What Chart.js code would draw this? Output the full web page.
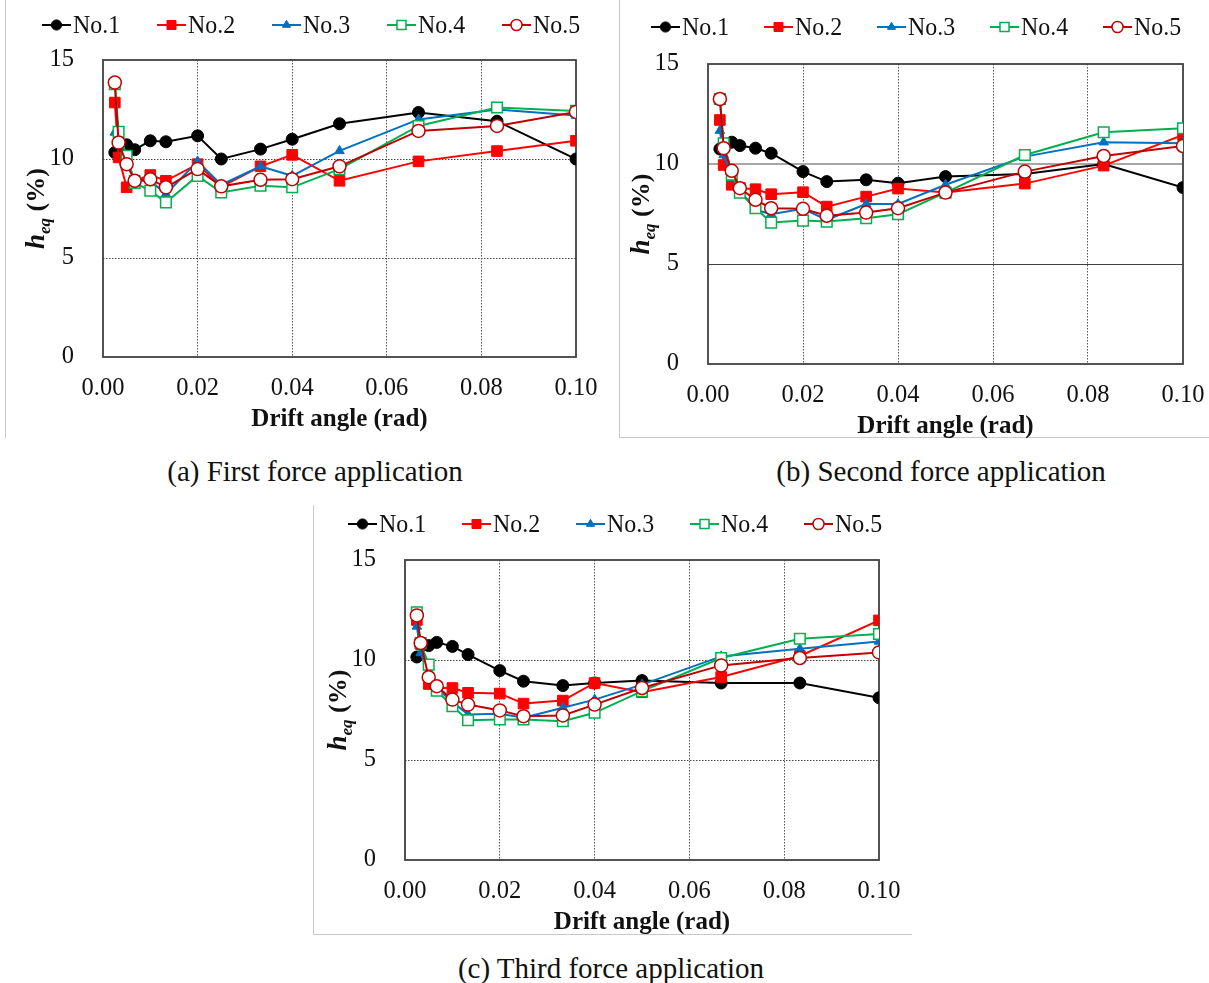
<!DOCTYPE html>
<html>
<head>
<meta charset="utf-8">
<script src="https://cdn.jsdelivr.net/npm/chart.js@4.4.1/dist/chart.umd.min.js"></script>
<style>
  body { margin: 0; background: #fff; width: 1209px; height: 983px; position: relative; overflow: hidden; font-family: 'Liberation Serif', serif; }
  canvas { position: absolute; }
  .cap { position: absolute; font-size: 29px; line-height: 32px; color: #111; white-space: nowrap; transform: translateX(-50%); }
  .edge { position: absolute; background: #c9c9c9; }
</style>
</head>
<body>
<div class="edge" style="left:5px; top:0; width:1px; height:438px"></div>
<div class="edge" style="left:619px; top:0; width:1px; height:438px"></div>
<div class="edge" style="left:619px; top:437px; width:590px; height:1px"></div>
<div class="edge" style="left:313px; top:505px; width:1px; height:430px"></div>
<div class="edge" style="left:313px; top:934px; width:599px; height:1px"></div>

<canvas id="chartA" width="600" height="440" style="left:0; top:0"></canvas>
<canvas id="chartB" width="599" height="440" style="left:610px; top:0"></canvas>
<canvas id="chartC" width="605" height="445" style="left:305px; top:495px"></canvas>

<div class="cap" style="left:315px; top:455px">(a) First force application</div>
<div class="cap" style="left:941px; top:455px">(b) Second force application</div>
<div class="cap" style="left:611px; top:952px">(c) Third force application</div>

<script>
// drift angles (rad): 1/400, 1/300, 1/200, 1/150, 1/100, 1/75, 1/50, 1/40, 1/30, 1/25, 1/20, 1/15, 1/12, 1/10
const drift = [0.0025, 0.0033, 0.005, 0.0067, 0.01, 0.0133, 0.02, 0.025, 0.0333, 0.04, 0.05, 0.0667, 0.0833, 0.1];
const xTicks = [0, 0.02, 0.04, 0.06, 0.08, 0.1];
const yTicks = [0, 5, 10, 15];
const seriesNames = ['No.1', 'No.2', 'No.3', 'No.4', 'No.5'];

// (a) first force application, h_eq (%)
const a1 = [10.33, null, 10.72, 10.47, 10.92, 10.87, 11.17, 10.0, 10.5, 11.0, 11.78, 12.35, 11.91, 10.0];
const a2 = [12.85, 10.08, 8.57, 8.9, 9.19, 8.9, 9.74, 8.6, 9.63, 10.21, 8.9, 9.88, 10.4, 10.92];
const a3 = [11.34, 10.8, 10.0, 8.9, 8.9, 8.23, 9.88, 8.7, 9.63, 9.15, 10.41, 12.0, 12.5, 12.2];
const a4 = [13.78, 11.37, 10.16, 8.79, 8.4, 7.81, 9.15, 8.31, 8.65, 8.57, 9.49, 11.67, 12.6, 12.43];
const a5 = [13.86, 10.83, 9.74, 8.9, 8.98, 8.57, 9.49, 8.62, 8.95, 8.98, 9.63, 11.42, 11.67, 12.38];

// (b) second force application
const b1 = [10.75, null, 11.09, 10.92, 10.79, 10.54, 9.62, 9.12, 9.21, 9.04, 9.37, 9.5, 10.0, 8.82];
const b2 = [12.2, 9.95, 8.96, 8.8, 8.74, 8.49, 8.59, 7.87, 8.37, 8.77, 8.57, 9.02, 9.92, 11.45];
const b3 = [11.67, 10.45, 9.3, 8.7, 7.71, 7.49, 7.76, 7.21, 8.0, 8.0, 8.96, 10.37, 11.09, 11.04];
const b4 = [13.25, 11.04, 9.46, 8.57, 7.79, 7.07, 7.17, 7.12, 7.29, 7.49, 8.57, 10.45, 11.59, 11.79];
const b5 = [13.25, 10.79, 9.66, 8.79, 8.21, 7.79, 7.76, 7.41, 7.57, 7.79, 8.57, 9.62, 10.4, 10.9];

// (c) third force application
const c1 = [10.15, null, 10.72, 10.88, 10.68, 10.27, 9.47, 8.94, 8.72, 8.85, 8.97, 8.85, 8.85, 8.11];
const c2 = [12.0, 10.8, 8.8, 8.6, 8.6, 8.36, 8.32, 7.82, 7.97, 8.85, 8.39, 9.15, 10.2, 11.98];
const c3 = [11.68, 10.35, 9.2, 8.6, 7.9, 7.28, 7.31, 7.11, 7.61, 8.02, 8.77, 10.18, 10.56, 10.93];
const c4 = [12.39, 10.85, 9.77, 8.47, 7.69, 6.99, 7.03, 7.03, 6.94, 7.36, 8.44, 10.1, 11.06, 11.3];
const c5 = [12.23, 10.85, 9.14, 8.69, 8.02, 7.77, 7.48, 7.19, 7.23, 7.77, 8.6, 9.73, 10.1, 10.38];

const FONT = "'Liberation Serif', 'Times New Roman', serif";

// marker / line style per specimen
const styles = [
    { color: '#000000', fill: '#000000', pointStyle: 'circle', radius: 6, bw: 1 },
    { color: '#ff0000', fill: '#ff0000', pointStyle: 'rect', radius: 7.5, bw: 1 },
    { color: '#0070c0', fill: '#0070c0', pointStyle: 'triangle', radius: 5.5, bw: 1 },
    { color: '#00b050', fill: '#ffffff', pointStyle: 'rect', radius: 7.5, bw: 1.5 },
    { color: '#c00000', fill: '#ffffff', pointStyle: 'circle', radius: 6.5, bw: 1.5 }
];

function toPoints(vals) {
    return vals.map((v, i) => ({ x: drift[i], y: v }));
}

// small legend: line + marker + label, like the Excel one
const lineLegend = {
    id: 'lineLegend',
    afterDraw(chart, args, opts) {
        const ctx = chart.ctx;
        ctx.save();
        seriesNames.forEach((name, i) => {
            const s = styles[i];
            const x = opts.x + i * opts.gap;
            const y = opts.y;
            ctx.strokeStyle = s.color;
            ctx.lineWidth = 2;
            ctx.beginPath();
            ctx.moveTo(x, y);
            ctx.lineTo(x + 29, y);
            ctx.stroke();
            ctx.fillStyle = s.fill;
            ctx.lineWidth = s.bw;
            Chart.helpers.drawPoint(ctx, { pointStyle: s.pointStyle, radius: s.radius * 0.85, borderWidth: s.bw, rotation: 0 }, x + 14.5, y);
            // the source image is a bit stretched vertically, so squeeze the text
            ctx.save();
            ctx.translate(x + 31, y + 1);
            ctx.scale(0.92, 1);
            ctx.fillStyle = '#111';
            ctx.font = '26px ' + FONT;
            ctx.textBaseline = 'middle';
            ctx.textAlign = 'left';
            ctx.fillText(name, 0, 0);
            ctx.restore();
        });
        ctx.restore();
    }
};

// plot frame + axis titles
const frame = {
    id: 'frame',
    beforeDatasetsDraw(chart) {
        const { ctx, chartArea: a } = chart;
        ctx.save();
        ctx.strokeStyle = '#404040';
        ctx.lineWidth = 1.8;
        ctx.strokeRect(a.left, a.top, a.right - a.left, a.bottom - a.top);
        ctx.restore();
    },
    afterDraw(chart) {
        const { ctx, chartArea: a } = chart;
        ctx.save();
        ctx.fillStyle = '#111';
        ctx.textBaseline = 'middle';
        ctx.textAlign = 'center';
        ctx.font = 'bold 25px ' + FONT;
        ctx.fillText('Drift angle (rad)', (a.left + a.right) / 2, a.bottom + 63);

        // y title: h_eq (%)
        const cx = a.left - 68, cy = (a.top + a.bottom) / 2;
        ctx.translate(cx, cy);
        ctx.rotate(-Math.PI / 2);
        ctx.textAlign = 'left';
        ctx.textBaseline = 'alphabetic';
        const fH = 'italic bold 27px ' + FONT, fS = 'italic bold 17px ' + FONT, fP = 'bold 26px ' + FONT;
        ctx.font = fH; const wH = ctx.measureText('h').width;
        ctx.font = fS; const wS = ctx.measureText('eq').width;
        ctx.font = fP; const wP = ctx.measureText(' (%)').width;
        let x = -(wH + wS + wP) / 2;
        const base = 9;
        ctx.font = fH; ctx.fillText('h', x, base); x += wH;
        ctx.font = fS; ctx.fillText('eq', x, base + 6); x += wS;
        ctx.font = fP; ctx.fillText(' (%)', x, base);
        ctx.restore();
    }
};

function makeChart(id, values, box) {
    const datasets = values.map((vals, i) => ({
        label: seriesNames[i],
        data: toPoints(vals),
        borderColor: styles[i].color,
        backgroundColor: styles[i].fill,
        pointBackgroundColor: styles[i].fill,
        pointBorderColor: styles[i].color,
        pointBorderWidth: styles[i].bw,
        pointStyle: styles[i].pointStyle,
        pointRadius: styles[i].radius,
        borderWidth: 2,
        spanGaps: true,
        tension: 0,
        order: values.length - i
    }));

    const inner = v => v > 0.0001 && v < 0.0999;

    return new Chart(document.getElementById(id), {
        type: 'line',
        data: { datasets },
        plugins: [frame, lineLegend],
        options: {
            responsive: false,
            animation: false,
            events: [],
            layout: { padding: { left: 0, top: box.plotT - box.top, right: box.left + box.w - box.plotR, bottom: 0 } },
            plugins: {
                legend: { display: false },
                tooltip: { enabled: false },
                lineLegend: { x: box.legendX - box.left, y: box.legendY - box.top, gap: box.gap }
            },
            scales: {
                x: {
                    type: 'linear',
                    min: 0,
                    max: 0.1,
                    afterBuildTicks: s => { s.ticks = xTicks.map(v => ({ value: v })); },
                    afterFit: s => {
                        s.height = box.top + box.h - box.plotB;
                        s.paddingLeft = 0;
                        s.paddingRight = 0;
                    },
                    ticks: {
                        padding: 17,
                        color: '#111',
                        font: { family: FONT, size: 24.5 },
                        maxRotation: 0,
                        callback: v => Number(v).toFixed(2)
                    },
                    grid: {
                        drawTicks: false,
                        lineWidth: 1,
                        color: c => inner(c.tick.value) ? '#555555' : 'rgba(0,0,0,0)'
                    },
                    border: { display: false, dash: [1.5, 1.5] }
                },
                y: {
                    min: 0,
                    max: 15,
                    afterBuildTicks: s => { s.ticks = yTicks.map(v => ({ value: v })); },
                    afterFit: s => {
                        s.width = box.plotL - box.left;
                        s.paddingTop = 0;
                        s.paddingBottom = 0;
                    },
                    ticks: {
                        padding: 29,
                        color: '#111',
                        font: { family: FONT, size: 24.5 }
                    },
                    grid: {
                        drawTicks: false,
                        lineWidth: c => (box.solidY && c.tick.value === 10) ? 2 : 1,
                        color: c => {
                            const v = c.tick.value;
                            if (v !== 5 && v !== 10) return 'rgba(0,0,0,0)';
                            if (box.solidY) return v === 10 ? '#a6a6a6' : '#404040';
                            return '#444444';
                        }
                    },
                    border: { display: false, dash: box.solidY ? [] : [1.5, 1.5] }
                }
            }
        }
    });
}

makeChart('chartA', [a1, a2, a3, a4, a5], {
    left: 0, top: 0, w: 600, h: 440,
    plotL: 103, plotR: 576, plotT: 60, plotB: 357,
    legendX: 42, legendY: 25, gap: 115, solidY: false
});
makeChart('chartB', [b1, b2, b3, b4, b5], {
    left: 610, top: 0, w: 599, h: 440,
    plotL: 708, plotR: 1183, plotT: 64, plotB: 364,
    legendX: 651, legendY: 27, gap: 113, solidY: true
});
makeChart('chartC', [c1, c2, c3, c4, c5], {
    left: 305, top: 495, w: 605, h: 445,
    plotL: 405, plotR: 879, plotT: 560, plotB: 860,
    legendX: 348, legendY: 524, gap: 114, solidY: false
});
</script>
</body>
</html>
